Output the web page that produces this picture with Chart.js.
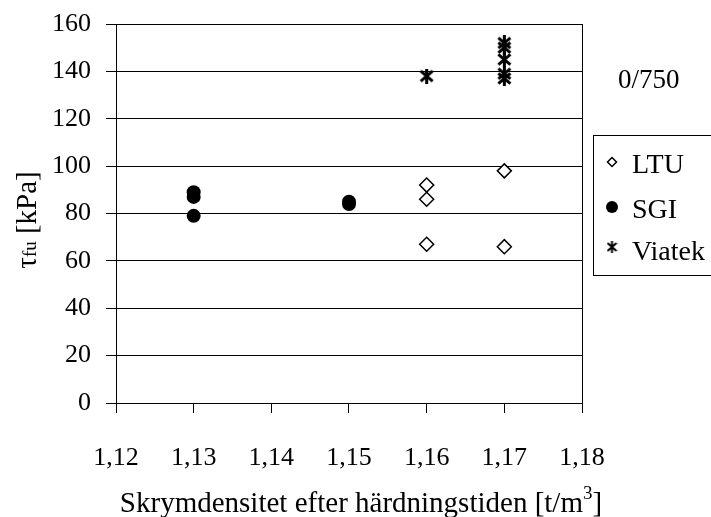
<!DOCTYPE html>
<html>
<head>
<meta charset="utf-8">
<script src="https://cdn.jsdelivr.net/npm/chart.js@4/dist/chart.umd.min.js"></script>
<style>
  html, body { margin: 0; padding: 0; background: #fff; }
  #wrap { width: 711px; height: 517px; position: relative; }
</style>
</head>
<body>
<div id="wrap"><canvas id="c" width="711" height="517"></canvas></div>
<script>
// Shear strength vs. bulk density after curing, three laboratories
const xTicks = [1.12, 1.13, 1.14, 1.15, 1.16, 1.17, 1.18];
const yTicks = [0, 20, 40, 60, 80, 100, 120, 140, 160];

const ltuDensity = [1.16, 1.16, 1.16, 1.17, 1.17];
const ltuStrength = [92, 86, 67, 98, 66];

const sgiDensity = [1.13, 1.13, 1.13, 1.15, 1.15];
const sgiStrength = [79, 87, 89, 84, 85];

const viatekDensity = [1.16, 1.17, 1.17, 1.17, 1.17, 1.17];
const viatekStrength = [138, 152, 150, 145, 139, 137];

const seriesNames = ['LTU', 'SGI', 'Viatek'];
const mixLabel = '0/750';

const FONT = '"Liberation Serif", "Times New Roman", serif';

function pairs(xs, ys) {
  return xs.map((x, i) => ({ x: x, y: ys[i] }));
}

// six-armed asterisk marker
function asterisk(w, h, lw) {
  const c = document.createElement('canvas');
  c.width = w; c.height = h;
  const g = c.getContext('2d');
  const mx = w / 2, my = h / 2;
  g.strokeStyle = '#000';
  g.lineWidth = lw;
  g.lineCap = 'butt';
  g.beginPath();
  g.moveTo(mx, 0); g.lineTo(mx, h);
  const dx = w / 2 - lw / 2, dy = h / 2 - h * 0.16;
  g.moveTo(mx - dx, my - dy); g.lineTo(mx + dx, my + dy);
  g.moveTo(mx - dx, my + dy); g.lineTo(mx + dx, my - dy);
  g.stroke();
  return c;
}
const starMark = asterisk(15, 15, 3);
const starMarkSmall = asterisk(11, 12, 2);

function richText(ctx, parts, x, y, align) {
  // parts: [text, size, raise]
  let total = 0;
  const widths = parts.map(p => {
    ctx.font = p[1] + 'px ' + FONT;
    const w = ctx.measureText(p[0]).width;
    total += w;
    return w;
  });
  let cx = align === 'center' ? x - total / 2 : x;
  parts.forEach((p, i) => {
    ctx.font = p[1] + 'px ' + FONT;
    ctx.fillText(p[0], cx, y - p[2]);
    cx += widths[i];
  });
}

// border of the plot area, legend box and axis titles with sub/superscripts
const decor = {
  id: 'decor',
  beforeDatasetsDraw(chart) {
    const { ctx, chartArea: a } = chart;
    ctx.save();
    ctx.strokeStyle = '#000';
    ctx.lineWidth = 1;
    ctx.strokeRect(Math.round(a.left) + 0.5, Math.round(a.top) + 0.5,
                   Math.round(a.right - a.left), Math.round(a.bottom - a.top));
    ctx.restore();
  },
  afterDraw(chart) {
    const { ctx } = chart;
    ctx.save();
    ctx.fillStyle = '#000';
    ctx.textAlign = 'left';
    ctx.textBaseline = 'alphabetic';

    // y title: tau with subscript fu
    ctx.save();
    ctx.translate(36, 220);
    ctx.rotate(-Math.PI / 2);
    richText(ctx, [['\u03c4', 29, 0], ['fu', 19, 0], [' [kPa]', 29, 0]], 0, 0, 'center');
    ctx.restore();

    // x title with superscript 3
    richText(ctx, [['Skrymdensitet efter h\u00e4rdningstiden [t/m', 29, 0], ['3', 19, 13], [']', 29, 0]],
             361, 512, 'center');

    // mix label
    ctx.font = '27px ' + FONT;
    ctx.fillText(mixLabel, 618, 88);

    // legend box
    ctx.strokeStyle = '#000';
    ctx.lineWidth = 1;
    ctx.strokeRect(593.5, 135.5, 130, 140);
    const rows = [162, 207, 247];
    const mx = 612;
    // diamond
    ctx.fillStyle = '#fff';
    ctx.lineWidth = 1.5;
    ctx.beginPath();
    ctx.moveTo(mx, rows[0] - 4.5); ctx.lineTo(mx + 4.5, rows[0]);
    ctx.lineTo(mx, rows[0] + 4.5); ctx.lineTo(mx - 4.5, rows[0]);
    ctx.closePath(); ctx.fill(); ctx.stroke();
    // dot
    ctx.fillStyle = '#000';
    ctx.beginPath(); ctx.arc(mx, rows[1], 6, 0, Math.PI * 2); ctx.fill();
    // asterisk
    ctx.drawImage(starMarkSmall, mx - 5.5, rows[2] - 6);
    ctx.font = '28px ' + FONT;
    const baselines = [173, 218, 260];
    seriesNames.forEach((n, i) => ctx.fillText(n, 632, baselines[i]));
    ctx.restore();
  }
};

new Chart(document.getElementById('c'), {
  type: 'scatter',
  data: {
    datasets: [
      {
        label: seriesNames[0],
        data: pairs(ltuDensity, ltuStrength),
        pointStyle: 'rectRot',
        pointRadius: 7,
        pointBackgroundColor: '#fff',
        pointBorderColor: '#000',
        pointBorderWidth: 1.5
      },
      {
        label: seriesNames[1],
        data: pairs(sgiDensity, sgiStrength),
        pointStyle: 'circle',
        pointRadius: 7,
        pointBackgroundColor: '#000',
        pointBorderColor: '#000',
        pointBorderWidth: 0
      },
      {
        label: seriesNames[2],
        data: pairs(viatekDensity, viatekStrength),
        pointStyle: starMark,
        pointRadius: 7
      }
    ]
  },
  options: {
    responsive: false,
    animation: false,
    events: [],
    layout: { padding: { top: 24, right: 129, left: 0, bottom: 0 } },
    plugins: {
      legend: { display: false },
      tooltip: { enabled: false }
    },
    scales: {
      x: {
        type: 'linear',
        min: 1.12,
        max: 1.18,
        afterBuildTicks(scale) { scale.ticks = xTicks.map(v => ({ value: v })); },
        afterFit(scale) {
          scale.height = 114;
          scale.paddingLeft = 0; scale.paddingRight = 0;
          scale.paddingTop = 0; scale.paddingBottom = 0;
        },
        grid: { drawOnChartArea: false, color: '#000', tickLength: 10, lineWidth: 1 },
        border: { display: true, color: '#000', width: 1 },
        ticks: {
          color: '#000',
          font: { family: FONT, size: 26 },
          padding: 30,
          maxRotation: 0,
          callback: v => v.toFixed(2).replace('.', ',')
        }
      },
      y: {
        type: 'linear',
        min: 0,
        max: 160,
        afterBuildTicks(scale) { scale.ticks = yTicks.map(v => ({ value: v })); },
        afterFit(scale) {
          scale.width = 116;
          scale.paddingLeft = 0; scale.paddingRight = 0;
          scale.paddingTop = 0; scale.paddingBottom = 0;
        },
        grid: { color: '#000', tickLength: 10, lineWidth: 1 },
        border: { display: true, color: '#000', width: 1 },
        ticks: {
          color: '#000',
          font: { family: FONT, size: 26 },
          padding: 15,
          callback: v => String(v)
        }
      }
    }
  },
  plugins: [decor]
});
</script>
</body>
</html>
